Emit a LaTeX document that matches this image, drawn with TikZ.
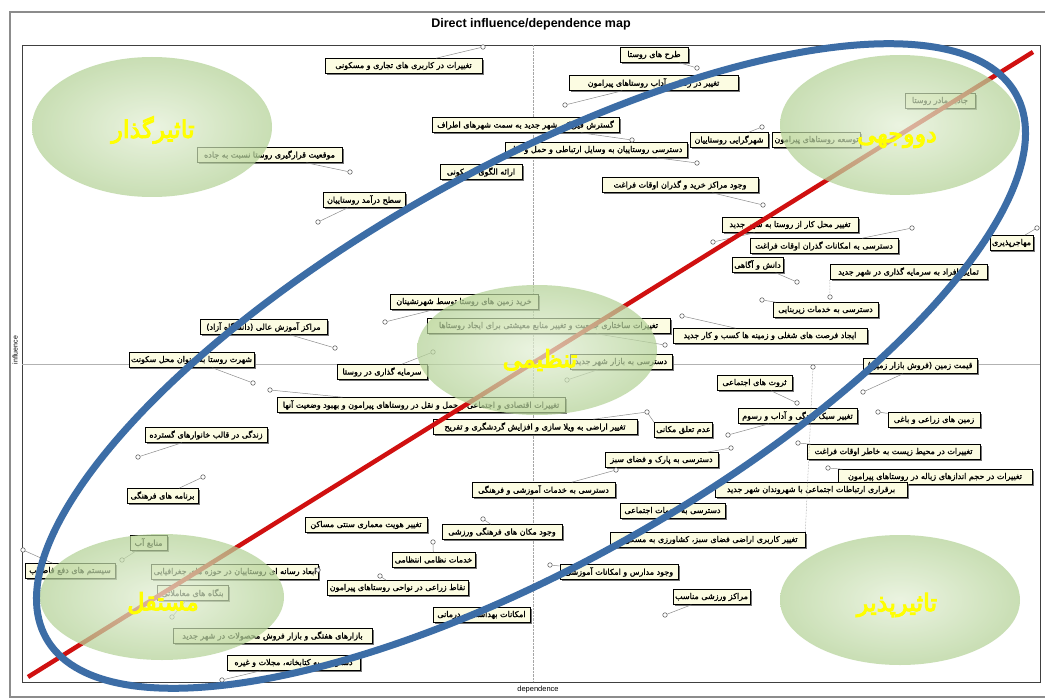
\documentclass[tikz,border=0pt]{standalone}
\usepackage{fontspec}
\setmainfont{Liberation Sans}
\newfontfamily\farsi[Script=Arabic,FakeBold=1.5]{DejaVu Sans}
\newfontfamily\farsibold[Script=Arabic,FakeBold=4]{DejaVu Sans}
\TeXXeTstate=1
\usetikzlibrary{shadows}
\definecolor{lblfill}{HTML}{FCFCE2}
\definecolor{mapblue}{HTML}{3C6DA6}
\definecolor{mapred}{HTML}{D01010}
\definecolor{zonein}{HTML}{E4F0D6}
\definecolor{zoneout}{HTML}{B4D297}
\definecolor{zonetext}{HTML}{FFFF00}
\newcommand{\fa}[1]{{\farsi\beginR #1\endR}}
\newcommand{\zonetitle}[1]{{\farsibold\beginR #1\endR}}
\tikzset{
    lbl/.style={draw=black, line width=0.6pt, fill=lblfill, inner xsep=2pt, inner ysep=1pt,
        minimum height=15pt, font=\fontsize{8}{9}\selectfont,
        drop shadow={shadow xshift=1.5pt, shadow yshift=-1.5pt, fill=black!60, opacity=0.9}},
    mappoint/.style={circle, draw=black!60, fill=white, line width=0.6pt, inner sep=0pt, minimum size=4.5pt},
    lead/.style={draw=black!45, line width=0.5pt},
    zone/.style={inner color=zonein, outer color=zoneout, opacity=0.72},
    zonelabel/.style={text=zonetext, font=\fontsize{24}{27}\selectfont}
}
\begin{document}
\begin{tikzpicture}[x=1pt,y=-1pt]
    \useasboundingbox (0,0) rectangle (1045,698);
    \fill[white] (0,0) rectangle (1045,698);
    \draw[black!45, line width=1.2pt] (10,12) rectangle (1052,697);
    \draw[black!75, line width=0.8pt] (22,45) rectangle (1040,682);
    \node[font=\bfseries\fontsize{12.5}{14}\selectfont] (title) at (531,24) {Direct influence/dependence map};
    \node[font=\fontsize{7}{8}\selectfont, rotate=90] (inflaxis) at (15,350) {influence};
    \node[font=\fontsize{7.5}{8}\selectfont] (depaxis) at (538,690) {dependence};
    \draw[black!35, densely dotted] (533,45) -- (533,682);
    \draw[black!30] (22,364) -- (1040,364);
    \foreach \n/\x/\y/\w/\t in {
        1/654/55/68/{طرح های روستا},
        2/653.5/83/169/{تغییر در رفتار و آداب روستاهای پیرامون},
        3/403.5/66/157/{تغییرات در کاربری های تجاری و مسکونی},
        4/525.5/125/187/{گسترش فیزیکی شهر جدید به سمت شهرهای اطراف},
        5/596/150/182/{دسترسی روستاییان به وسایل ارتباطی و حمل و نقل},
        6/729/140/78/{شهرگرایی روستاییان},
        7/816.5/140/87/{توسعه روستاهای پیرامون},
        8/940/101/70/{جاذبه مادر روستا},
        9/680/185/156/{وجود مراکز خرید و گذران اوقات فراغت},
        10/481/172/82/{ارائه الگوی مسکونی},
        11/269.5/155/145/{موقعیت قرارگیری روستا نسبت به جاده},
        12/364/200/82/{سطح درآمد روستاییان},
        13/790/225/136/{تغییر محل کار از روستا به شهر جدید},
        14/824/246/148/{دسترسی به امکانات گذران اوقات فراغت},
        15/757.5/265/51/{دانش و آگاهی},
        16/1011.5/243/43/{مهاجرپذیری},
        17/908.5/272/157/{تمایل افراد به سرمایه گذاری در شهر جدید},
        18/825.5/310/105/{دسترسی به خدمات زیربنایی},
        19/770/336/194/{ایجاد فرصت های شغلی و زمینه ها کسب و کار جدید},
        20/548.5/326/243/{تغییرات ساختاری جمعیت و تغییر منابع معیشتی برای ایجاد روستاها},
        21/621/362/102/{دسترسی به بازار شهر جدید},
        22/464/302/148/{خرید زمین های روستا توسط شهرنشینان},
        23/263.5/327/127/{مراکز آموزش عالی (دانشگاه آزاد)},
        24/191.5/360/113/{شهرت روستا به عنوان محل سکونت},
        25/382/372/90/{سرمایه گذاری در روستا},
        26/421/405/288/{تغییرات اقتصادی و اجتماعی و حمل و نقل در روستاهای پیرامون و بهبود وضعیت آنها},
        27/535/427/204/{تغییر اراضی به ویلا سازی و افزایش گردشگری و تفریح},
        28/683.5/430/57/{عدم تعلق مکانی},
        29/754.5/383/75/{ثروت های اجتماعی},
        30/797.5/416/119/{تغییر سبک زندگی و آداب و رسوم},
        31/920/366/114/{قیمت زمین (فروش بازار زمین)},
        32/934/420/92/{زمین های زراعی و باغی},
        33/893.5/452/173/{تغییرات در محیط زیست به خاطر اوقات فراغت},
        34/935/477/194/{تغییرات در حجم اندازهای زباله در روستاهای پیرامون},
        35/811/490/192/{برقراری ارتباطات اجتماعی با شهروندان شهر جدید},
        36/661.5/460/113/{دسترسی به پارک و فضای سبز},
        37/543.5/490/143/{دسترسی به خدمات آموزشی و فرهنگی},
        38/672.5/511/105/{دسترسی به خدمات اجتماعی},
        39/707.5/540/195/{تغییر کاربری اراضی فضای سبز، کشاورزی به مسکونی},
        40/502/532/120/{وجود مکان های فرهنگی ورزشی},
        41/433.5/560/83/{خدمات نظامی انتظامی},
        42/366/525/122/{تغییر هویت معماری سنتی مساکن},
        43/619/572/118/{وجود مدارس و امکانات آموزشی},
        44/711.5/597/77/{مراکز ورزشی مناسب},
        45/481.5/615/97/{امکانات بهداشتی و درمانی},
        46/397.5/588/141/{نقاط زراعی در نواحی روستاهای پیرامون},
        47/235/572/156/{ابعاد رسانه ای روستاییان در حوزه های جغرافیایی},
        48/70/571/90/{سیستم های دفع فاضلاب},
        49/148.5/543/37/{منابع آب},
        50/192.5/593/71/{بنگاه های معاملاتی},
        51/272.5/636/199/{بازارهای هفتگی و بازار فروش محصولات در شهر جدید},
        52/293.5/663/133/{دسترسی به کتابخانه، مجلات و غیره},
        53/162.5/496/71/{برنامه های فرهنگی},
        54/206/435/122/{زندگی در قالب خانوارهای گسترده}}
    {   \node[lbl, minimum width=\w pt] (t\n) at (\x,\y) {\fa{\t}};
    }
    \foreach \n/\x/\y in {1/697/68, 2/565/105, 3/483/47, 4/632/140, 5/697/163, 6/762/127,
        9/763/205, 10/437/192, 11/350/172, 12/318/222, 13/713/242, 14/912/228, 15/797/282,
        16/1037/228, 17/830/297, 18/762/300, 19/682/316, 20/665/345, 21/567/380, 22/385/322,
        23/335/348, 24/253/383, 25/433/352, 26/270/390, 27/647/412, 29/797/403, 30/728/435,
        31/863/392, 32/878/412, 33/798/443, 34/828/468, 36/731/448, 37/616/470, 39/813/367,
        40/483/519, 41/433/542, 43/550/565, 44/665/615, 46/380/576, 47/318/570, 48/23/550,
        49/122/560, 50/172/617, 52/222/680, 53/203/477, 54/138/457}
    {   \node[mappoint] (p\n) at (\x,\y) {};
    }
    \foreach \n in {1,2,3,4,5,6,9,10,11,12,13,14,15,16,18,19,20,21,22,23,24,25,26,27,29,30,
        31,32,33,34,36,37,40,41,43,44,46,47,48,49,50,52,53,54}
    {   \draw[lead] (p\n) -- (t\n);
    }
    \draw[lead, densely dotted] (p17) -- (t17.south west);
    \draw[lead, densely dotted] (p39) -- (t39.north east);
    \draw[lead] (p27) -- (t28.north west);
    \coordinate (diaglow) at (28,677);
    \coordinate (diaghigh) at (1033,52);
    \draw[mapred, line width=4.5pt] (diaglow) -- (diaghigh);
    \foreach \x/\y/\rx/\ry in {152/127/120/70, 900/125/120/70, 537/350/120/65, 162/597/122/63, 900/600/120/65}
    {   \shade[zone] (\x,\y) ellipse (\rx pt and \ry pt);
    }
    \node[zonelabel] (infl) at (153,130) {\zonetitle{تاثیرگذار}};
    \node[zonelabel] (dual) at (897,140) {\zonetitle{دووجهی}};
    \node[zonelabel] (regul) at (540,360) {\zonetitle{تنظیمی}};
    \node[zonelabel] (indep) at (163,603) {\zonetitle{مستقل}};
    \node[zonelabel] (depen) at (897,605) {\zonetitle{تاثیرپذیر}};
    \draw[mapblue, line width=7pt, rotate around={29.3:(531,366)}] (531,366) ellipse (556 and 198);
\end{tikzpicture}
\end{document}
